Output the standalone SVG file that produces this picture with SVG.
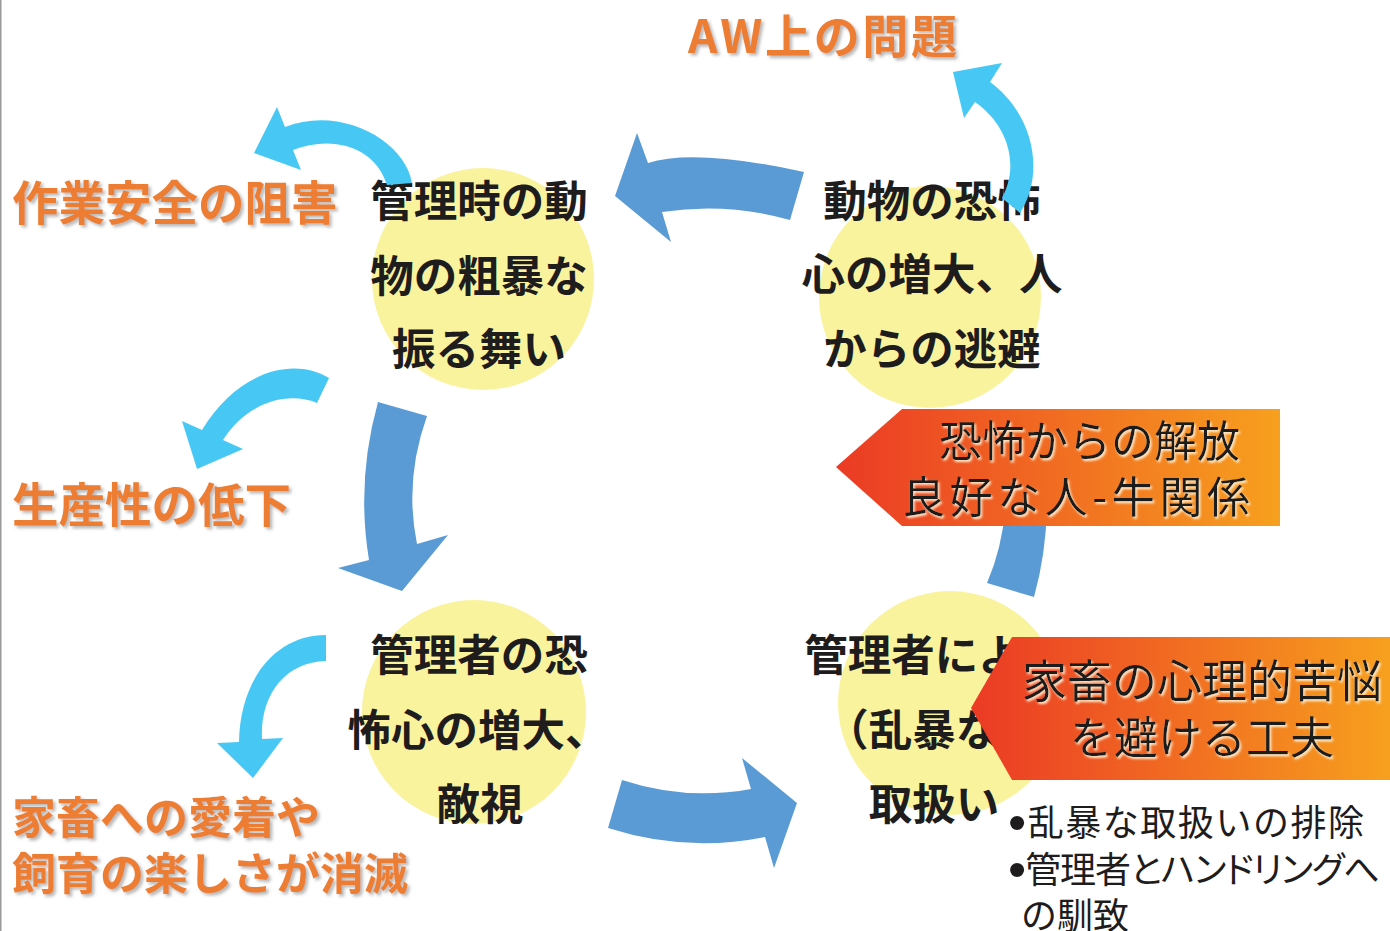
<svg xmlns="http://www.w3.org/2000/svg" width="1390" height="931" viewBox="0 0 1390 931">
<defs>
<style>
.circ{fill:#FAF39E}
.blk{font-family:"Noto Sans CJK JP","Noto Sans CJK SC",sans-serif;font-weight:700;font-size:43.5px;fill:#1E1C1C;text-anchor:middle}
.org{font-family:"Noto Sans CJK JP","Noto Sans CJK SC",sans-serif;font-weight:700;fill:#ED7D31;filter:url(#sh)}
.ban{font-family:"Noto Sans CJK JP","Noto Sans CJK SC",sans-serif;font-weight:400;fill:#1E1C1C;filter:url(#glow)}
.bul{font-family:"Noto Sans CJK JP","Noto Sans CJK SC",sans-serif;font-weight:400;font-size:36px;fill:#1E1C1C}
.dot{font-family:"Liberation Sans",sans-serif;font-size:52px}
.blue{fill:#5B9BD5}
.cyan{fill:#47C8F4}
</style>
<filter id="sh" x="-10%" y="-30%" width="120%" height="160%">
<feDropShadow dx="2.5" dy="2.5" stdDeviation="1.5" flood-color="#7F7F7F" flood-opacity="0.55"/>
</filter>
<filter id="glow" x="-10%" y="-30%" width="120%" height="160%">
<feDropShadow dx="1.5" dy="2" stdDeviation="1" flood-color="#FFF3D6" flood-opacity="0.95"/>
</filter>
<linearGradient id="grad" x1="0" y1="0" x2="1" y2="0">
<stop offset="0" stop-color="#EB3A25"/>
<stop offset="1" stop-color="#F7A01E"/>
</linearGradient>
</defs>
<rect x="0" y="0" width="1390" height="931" fill="#FFFFFF"/>
<rect x="0" y="0" width="1.5" height="931" fill="#9A9A9A"/>

<g id="node-tl">
<circle class="circ" cx="483" cy="279" r="111"/>
<text class="blk" x="479" y="217">管理時の動</text>
<text class="blk" x="479" y="292">物の粗暴な</text>
<text class="blk" x="479" y="365">振る舞い</text>
</g>
<g id="node-tr">
<circle class="circ" cx="930" cy="297" r="111"/>
<text class="blk" x="932" y="217">動物の恐怖</text>
<text class="blk" x="932" y="290">心の増大、人</text>
<text class="blk" x="932" y="365">からの逃避</text>
</g>
<g id="node-bl">
<circle class="circ" cx="474" cy="712" r="112"/>
<text class="blk" x="479" y="671">管理者の恐</text>
<text class="blk" x="478" y="746">怖心の増大、</text>
<text class="blk" x="480" y="820">敵視</text>
</g>
<g id="node-br">
<circle class="circ" cx="950" cy="703" r="112"/>
<text class="blk" x="934" y="671">管理者による</text>
<text class="blk" x="934" y="746">（乱暴な）</text>
<text class="blk" x="934" y="820">取扱い</text>
</g>

<g id="connectors">
<path class="blue" d="M804,172 Q694,148 648,163 L637,133 L615,196 L671,242 L662,212 Q726,202 790,220 Z"/>
<path class="blue" d="M378,402 Q356,481 369,560 L338,568 L402,591 L448,535 L417,544 Q404,480 427,416 Z"/>
<path class="blue" d="M622,780 Q686,801 751,789 L742,758 L797,803 L774,868 L765,837 Q686,853 608,828 Z"/>
<path class="blue" d="M987,583 L1034,597 Q1050,540 1046,478 L1070,482 L1028,425 L985,470 L1006,474 Q1008,535 987,583 Z"/>
<path class="cyan" d="M412,183 C405,140 340,105 285,127 L277,107 L254,153 L301,170 L293,150 C330,135 375,145 387,185 Z"/>
<path class="cyan" d="M1020,213 C1045,175 1035,115 990,82 L1002,63 L953,72 L964,118 L975,102 C1008,125 1020,165 1002,198 Z"/>
<path class="cyan" d="M329,378 C290,355 235,375 202,430 L182,421 L197,469 L243,449 L223,440 C245,405 285,390 317,403 Z"/>
<path class="cyan" d="M326,635 C275,635 240,680 239,742 L217,743 L253,778 L283,738 L262,739 C260,695 285,662 326,661 Z"/>
</g>

<g id="label-aw">
<text class="org" x="688" y="53" font-size="46" textLength="269" lengthAdjust="spacing">AW上の問題</text>
</g>
<g id="label-safety">
<text class="org" x="12" y="220" font-size="46.5">作業安全の阻害</text>
</g>
<g id="label-productivity">
<text class="org" x="12" y="522" font-size="46.5">生産性の低下</text>
</g>
<g id="label-attachment">
<text class="org" x="12" y="834" font-size="44">家畜への愛着や</text>
<text class="org" x="12" y="890" font-size="44">飼育の楽しさが消滅</text>
</g>

<g id="banner-release">
<path d="M902,409 L1280,409 L1280,526 L902,526 L836,467 Z" fill="url(#grad)"/>
<text class="ban" x="939" y="457" font-size="43">恐怖からの解放</text>
<text class="ban" x="902" y="513" font-size="43" textLength="348" lengthAdjust="spacing">良好な人-牛関係</text>
</g>
<g id="banner-avoid">
<path d="M1012,637 L1390,637 L1390,780 L1012,780 L971,708 Z" fill="url(#grad)"/>
<text class="ban" x="1202" y="698" font-size="45" text-anchor="middle">家畜の心理的苦悩</text>
<text class="ban" x="1202" y="754" font-size="44" text-anchor="middle">を避ける工夫</text>
</g>
<g id="bullets">
<text class="bul" x="1008" y="836" textLength="356" lengthAdjust="spacing"><tspan class="dot" dy="4">•</tspan><tspan dy="-4">乱暴な取扱いの排除</tspan></text>
<text class="bul" x="1008" y="883" textLength="372" lengthAdjust="spacing" style="font-feature-settings:'palt'"><tspan class="dot" dy="4">•</tspan><tspan dy="-4">管理者とハンドリングへ</tspan></text>
<text class="bul" x="1021" y="929">の馴致</text>
</g>
</svg>
